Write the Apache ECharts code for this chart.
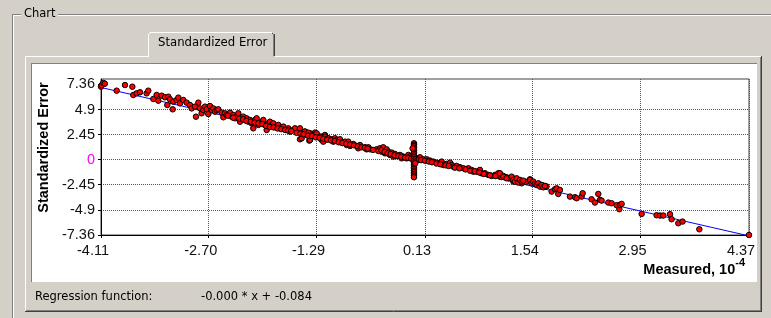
<!DOCTYPE html>
<html><head><meta charset="utf-8">
<script src="https://cdn.jsdelivr.net/npm/echarts@6/dist/echarts.min.js"></script>
<style>html,body{margin:0;padding:0;background:#d4d0c8;}#c{width:771px;height:318px;}</style>
</head><body><div id="c"></div>
<script>
// ---- tick marks / labels ----
const xTickValues = [-4.11, -2.70, -1.29, 0.13, 1.54, 2.95, 4.37];
const xTickLabels = ['-4.11', '-2.70', '-1.29', '0.13', '1.54', '2.95', '4.37'];
const yTickValues = [-7.36, -4.9, -2.45, 0, 2.45, 4.9, 7.36];
const yTickLabels = ['-7.36', '-4.9', '-2.45', '0', '2.45', '4.9', '7.36'];
const yAxisTop = 7.88;

// ---- regression line (Measured, 10^-4 vs Standardized Error) ----
const regressionX = [-4.11, 4.37];
const regressionY = [7.05, -7.45];
const regressionText = '-0.000 * x + -0.084';

// ---- scatter points [measured, standardized error] ----
const pointsUpper = [[-4.11,7.13],[-4.10,7.29],[-4.08,7.50],[-4.06,7.42],[-3.905,6.74],[-3.796,7.29],[-3.70,7.13],[-3.687,6.32],[-3.643,6.48],[-3.60,6.58],[-3.513,6.48],[-3.491,6.74],[-3.425,5.93],[-3.382,6.32],[-3.36,5.76],[-3.316,6.25],[-3.273,6.09],[-3.229,6.15],[-3.207,5.89],[-3.242,5.34],[-3.172,4.92],[-3.164,5.67],[-3.12,5.83],[-3.098,6.06],[-3.076,5.50],[-3.033,5.83],[-2.989,5.57],[-2.946,5.34],[-2.924,5.01],[-2.88,5.18],[-2.867,4.20],[-2.836,5.57],[-2.815,5.01],[-2.793,4.53],[-2.771,4.85],[-2.749,5.18],[-2.727,4.92],[-2.706,4.46],[-2.684,5.24],[-2.662,4.85],[-2.64,5.01],[-2.618,4.69],[-2.597,4.85],[-2.575,4.92],[-2.531,4.59],[-2.509,4.14],[-2.488,4.53],[-2.466,4.36],[-2.422,4.59],[-2.40,4.20],[-2.378,4.36],[-2.357,4.04],[-2.335,4.20],[-2.313,4.53],[-2.291,3.71],[-2.269,4.04],[-2.248,4.20],[-2.226,3.88],[-2.204,4.04],[-2.182,3.71],[-2.16,3.88],[-2.139,3.55],[-2.117,3.06],[-2.095,3.88],[-2.073,4.04],[-2.051,3.39],[-2.03,3.55],[-2.008,3.71],[-1.986,3.88],[-1.964,3.39],[-1.942,2.90],[-1.92,3.55],[-1.899,3.71],[-1.877,3.39],[-1.855,3.55],[-1.811,3.23],[-1.79,3.39],[-1.768,3.06],[-1.724,3.23],[-1.68,2.90],[-1.659,3.06],[-1.637,2.74],[-1.593,2.90],[-1.571,3.06],[-1.528,2.74],[-1.506,1.99],[-1.484,2.57],[-1.441,2.74],[-1.419,2.41],[-1.384,1.86],[-1.375,2.57],[-1.332,2.41],[-1.31,2.64],[-1.288,2.41],[-1.266,2.25],[-1.223,2.25],[-1.201,1.92],[-1.179,2.41],[-1.135,2.09]];
const pointsMiddle = [[-1.506,3.06],[-1.484,2.09],[-1.441,2.74],[-1.397,2.64],[-1.375,1.92],[-1.331,2.41],[-1.288,2.57],[-1.244,2.25],[-1.222,1.92],[-1.201,1.76],[-1.179,2.25],[-1.135,2.09],[-1.092,1.99],[-1.07,1.76],[-1.048,2.09],[-1.026,1.92],[-0.983,1.99],[-0.961,1.66],[-0.917,1.76],[-0.895,1.43],[-0.874,1.76],[-0.852,1.34],[-0.808,1.53],[-0.764,1.34],[-0.743,1.11],[-0.721,1.43],[-0.655,1.21],[-0.634,1.01],[-0.612,1.21],[-0.590,1.01],[-0.503,1.01],[-0.459,1.11],[-0.437,0.78],[-0.416,1.21],[-0.394,0.62],[-0.372,1.01],[-0.350,0.78],[-0.328,0.46],[-0.306,0.69],[-0.285,0.30],[-0.263,0.56],[-0.241,0.36],[-0.197,0.46],[-0.176,0.13],[-0.154,0.30],[-0.110,0.13],[-0.088,0.46],[-0.067,0.30],[0.021,0.13],[0.064,0.23],[0.108,0.04],[0.152,0.04],[0.195,-0.09],[0.239,-0.19],[0.282,-0.29],[0.326,-0.35],[0.348,-0.19],[0.370,-0.52],[0.413,-0.42],[0.457,-0.29],[0.479,-0.52],[0.501,-0.68],[0.544,-0.61],[0.588,-0.74],[0.631,-0.84],[0.697,-0.84],[0.740,-1.00],[0.762,-1.17],[0.806,-1.17],[0.849,-1.00],[0.871,-1.33],[0.915,-1.33],[0.958,-1.49],[1.002,-1.59],[1.046,-1.49],[1.089,-1.33],[1.111,-1.66],[1.155,-1.59],[1.198,-1.72],[1.264,-1.82],[1.286,-2.14],[1.329,-1.98],[1.373,-2.14],[1.395,-2.31],[1.504,-1.92],[1.526,-2.14],[1.569,-2.37],[1.613,-2.47],[1.656,-2.63],[1.70,-2.57]];
const pointsBar = [[-0.014,1.60],[-0.014,1.47],[-0.014,1.33],[-0.014,1.18],[-0.014,1.03],[-0.014,0.88],[-0.014,0.72],[-0.014,0.56],[-0.014,0.40],[-0.014,0.23],[-0.014,0.07],[-0.014,-0.09],[-0.014,-0.25],[-0.014,-0.42],[-0.014,-0.58],[-0.014,-0.74],[-0.014,-0.90],[-0.014,-1.07],[-0.014,-1.23],[-0.014,-1.40],[-0.014,-1.56],[-0.014,-1.72],[-0.032,1.11],[0.003,-0.35]];
const pointsLower = [[1.111,-1.33],[1.155,-1.66],[1.198,-1.82],[1.264,-1.66],[1.285,-1.98],[1.307,-2.14],[1.329,-1.82],[1.351,-2.24],[1.373,-1.98],[1.395,-2.14],[1.416,-2.05],[1.504,-1.98],[1.525,-2.31],[1.547,-2.14],[1.569,-2.37],[1.591,-2.47],[1.613,-2.31],[1.634,-2.63],[1.656,-2.47],[1.678,-2.70],[1.70,-2.57],[1.787,-3.12],[1.831,-2.89],[1.853,-2.80],[1.874,-3.35],[1.896,-2.96],[2.027,-3.61],[2.093,-3.67],[2.114,-3.77],[2.18,-3.61],[2.193,-3.28],[2.31,-3.87],[2.354,-4.19],[2.398,-3.35],[2.42,-3.93],[2.441,-4.00],[2.529,-4.19],[2.572,-4.26],[2.638,-4.45],[2.673,-4.84],[2.681,-4.42],[2.703,-4.32],[2.965,-5.30],[3.161,-5.43],[3.205,-5.46],[3.248,-5.46],[3.336,-5.33],[3.357,-5.82],[3.445,-6.21],[3.50,-6.05],[3.72,-6.80],[4.37,-7.36]];
const pointsBand = [[-2.45,4.30],[-2.38,4.10],[-2.30,4.00],[-2.25,3.95],[-2.21,3.80],[-2.15,3.70],[-2.10,3.62],[-2.05,3.55],[-2.00,3.48],[-1.95,3.30],[-1.90,3.20],[-1.85,3.15],[-1.80,3.05],[-1.75,2.98],[-1.70,2.90],[-1.66,2.85],[-1.62,2.80],[-1.55,2.62],[-1.50,2.55],[-1.46,2.48],[-1.40,2.35],[-1.35,2.30],[-1.30,2.18],[-1.25,2.12],[-1.20,2.05],[-1.15,1.95],[-1.10,1.88],[-1.05,1.82],[-1.00,1.70],[-0.95,1.62],[-0.90,1.55],[-0.85,1.48],[-0.80,1.40],[-0.75,1.30],[-0.70,1.22],[-0.66,1.15],[-0.62,1.08],[-0.55,0.95],[-0.48,0.85],[-0.44,0.92],[-0.40,0.75],[-0.36,0.62],[-0.32,0.55],[-0.27,0.42],[-0.22,0.35],[-0.18,0.28],[-0.13,0.20],[-0.09,0.18],[-0.05,0.10],[0.04,0.00],[0.08,-0.05],[0.13,-0.10],[0.18,-0.18],[0.22,-0.25],[0.28,-0.38],[0.33,-0.45],[0.40,-0.55],[0.44,-0.62],[0.52,-0.78],[0.58,-0.85],[0.66,-0.95],[0.72,-1.08],[0.78,-1.12],[0.84,-1.25],[0.90,-1.40],[0.98,-1.52],[1.05,-1.60],[1.13,-1.70],[1.22,-1.82],[1.30,-1.90],[1.36,-2.05],[1.45,-2.15],[1.52,-2.25],[1.60,-2.40],[1.66,-2.50],[1.72,-2.62]];

const scatterData = [].concat(pointsUpper, pointsMiddle, pointsBand, pointsBar, pointsLower);
const lineData = regressionX.map((x, i) => [x, regressionY[i]]);

function lookup(values, labels, v) {
  const i = values.findIndex(t => Math.abs(t - v) < 1e-6);
  return i >= 0 ? labels[i] : '';
}

const BG = '#d4d0c8', DARK = '#404040', GRAY = '#808080', WHITE = '#ffffff';
const UI_FONT = 'DejaVu Sans';
const CH_FONT = 'Liberation Sans';
function ln(x1, y1, x2, y2, c) {
  return { type: 'line', silent: true, z: -10, shape: { x1, y1, x2, y2 }, style: { stroke: c, lineWidth: 1 } };
}

const chart = echarts.init(document.getElementById('c'), null, { renderer: 'canvas' });
chart.setOption({
  animation: false,
  backgroundColor: BG,
  grid: { left: 101, top: 79, width: 648, height: 156, show: true, borderColor: '#404040', borderWidth: 1, backgroundColor: 'rgba(0,0,0,0)' },
  xAxis: {
    type: 'value', min: xTickValues[0], max: xTickValues[xTickValues.length - 1],
    axisLine: { show: true, onZero: false, lineStyle: { color: '#000', width: 1 } },
    axisTick: { show: true, customValues: xTickValues, length: 3, lineStyle: { color: '#000' } },
    axisLabel: { customValues: xTickValues, formatter: v => lookup(xTickValues, xTickLabels, v),
      fontFamily: CH_FONT, fontSize: 14.5, color: '#111', margin: 8, padding: [0, 16, 0, 0] },
    splitLine: { show: true, lineStyle: { color: '#555', type: [1, 1], width: 1 } }
  },
  yAxis: {
    type: 'value', min: yTickValues[0], max: yAxisTop,
    name: 'Standardized Error', nameLocation: 'middle', nameRotate: 90, nameGap: 45,
    nameTextStyle: { fontFamily: CH_FONT, fontSize: 14.5, fontWeight: 'bold', color: '#000', padding: [0, 0, 0, 19] },
    axisLine: { show: true, onZero: false, lineStyle: { color: '#000', width: 1 } },
    axisTick: { show: true, customValues: yTickValues, length: 3, lineStyle: { color: '#000' } },
    axisLabel: { customValues: yTickValues, formatter: v => lookup(yTickValues, yTickLabels, v),
      fontFamily: CH_FONT, fontSize: 14.5, margin: 6, padding: [0, 0, 10, 0],
      color: v => (Number(v) === 0 ? '#ff00ff' : '#111') },
    splitLine: { show: true, lineStyle: { color: ['#555', '#555', '#555', '#555', '#555', '#555', 'rgba(0,0,0,0)'], type: [1, 1], width: 1 } }
  },
  graphic: [
    // group box "Chart"
    ln(12.5, 14.5, 12.5, 318, GRAY), ln(13.5, 15.5, 13.5, 318, WHITE),
    ln(12, 14.5, 21, 14.5, GRAY), ln(13, 15.5, 21, 15.5, WHITE),
    ln(58, 14.5, 771, 14.5, GRAY), ln(58, 15.5, 771, 15.5, WHITE),
    { type: 'text', silent: true, left: 24, top: 8, style: { text: 'Chart', font: '11.5px "' + UI_FONT + '"', fill: '#000' } },
    // tab page frame
    ln(25.5, 56, 25.5, 312, WHITE),
    ln(25, 56.5, 148, 56.5, WHITE), ln(275, 56.5, 762, 56.5, WHITE),
    ln(760.5, 57, 760.5, 310, GRAY), ln(761.5, 56, 761.5, 312, DARK),
    ln(26, 310.5, 761, 310.5, GRAY), ln(25, 311.5, 762, 311.5, DARK),
    // tab
    ln(148.5, 34, 148.5, 57, WHITE), ln(150, 32.5, 272, 32.5, WHITE), ln(149, 33.5, 150, 33.5, WHITE),
    ln(273.5, 34, 273.5, 56, GRAY), ln(274.5, 34, 274.5, 56, DARK), ln(272, 33.5, 273, 33.5, DARK),
    { type: 'text', silent: true, left: 158, top: 37, style: { text: 'Standardized Error', font: '11.7px "' + UI_FONT + '"', fill: '#000' } },
    // white chart area
    { type: 'rect', silent: true, z: -20, shape: { x: 31, y: 63, width: 726, height: 219 }, style: { fill: '#fff' } },
    ln(31.5, 63, 31.5, 282, GRAY), ln(31, 63.5, 757, 63.5, GRAY),
    // x axis title with superscript
    { type: 'text', silent: true, right: 771 - 745, top: 257,
      style: { text: '{a|Measured, 10}{b|-4}', rich: {
        a: { fontFamily: CH_FONT, fontSize: 14.5, fontWeight: 'bold', fill: '#000', verticalAlign: 'bottom', lineHeight: 20 },
        b: { fontFamily: CH_FONT, fontSize: 11, fontWeight: 'bold', fill: '#000', verticalAlign: 'top', lineHeight: 20 } } } },
    // status bar
    { type: 'text', silent: true, left: 35, top: 291, style: { text: 'Regression function:', font: '11.5px "' + UI_FONT + '"', fill: '#000' } },
    { type: 'text', silent: true, left: 201, top: 291, style: { text: regressionText, font: '11.5px "' + UI_FONT + '"', fill: '#000' } }
  ],
  series: [
    { type: 'line', data: lineData, symbol: 'none', z: 2, clip: true,
      lineStyle: { color: '#0000ff', width: 1 } },
    { type: 'scatter', data: scatterData, symbol: 'circle', symbolSize: 5.5, z: 3, clip: false,
      itemStyle: { color: '#ff0000', borderColor: '#000', borderWidth: 1, opacity: 1 } }
  ]
});
</script></body></html>
